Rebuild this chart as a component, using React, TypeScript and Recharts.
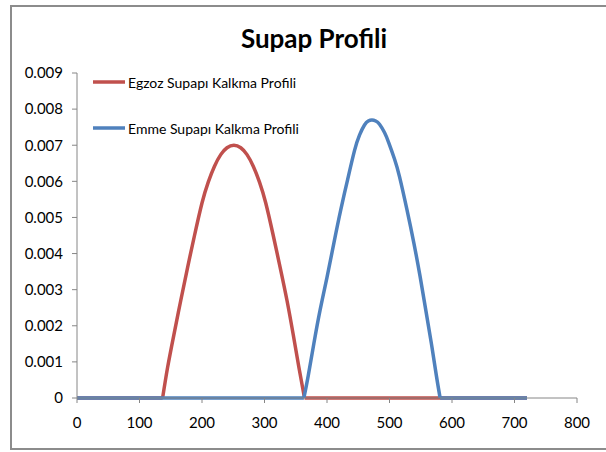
import React from "react";
import { LineChart, Line, XAxis, YAxis, Legend } from "recharts";

// Supap kalkma profilleri (krank açısı, derece -> kalkma, m) - sadece açık kısım
const egzozAci = [137, 145, 155, 166, 177, 188, 200, 210, 220, 230, 240, 251, 262, 272, 282, 292, 302, 314, 325, 336, 346, 355, 364];
const egzozKalkma = [0, 0.00085, 0.00175, 0.0027, 0.00362, 0.0045, 0.0054, 0.00598, 0.00642, 0.00674, 0.00693, 0.007, 0.00693, 0.00674, 0.00642, 0.00598, 0.0054, 0.0045, 0.00362, 0.0027, 0.00175, 0.00085, 0];

const emmeAci = [363, 370, 379, 389, 400, 411, 422, 433, 444, 452, 460, 466, 472, 478, 484, 492, 499, 508, 516, 528, 539, 549, 558, 567, 575, 581];
const emmeKalkma = [0, 0.00062, 0.00151, 0.00244, 0.00334, 0.00429, 0.00521, 0.00605, 0.00685, 0.00728, 0.00756, 0.00767, 0.0077, 0.00767, 0.00758, 0.00735, 0.00706, 0.00662, 0.00613, 0.00521, 0.00429, 0.00336, 0.00244, 0.00151, 0.00062, 0];

// kapalı (sıfır kalkma) bölgeler
const egzozKapaliAci = [0, 137, null, 364, 720];
const emmeKapaliAci = [0, 363, null, 581, 720];

const xTicks = [0, 100, 200, 300, 400, 500, 600, 700, 800];
const yTicks = [0, 0.001, 0.002, 0.003, 0.004, 0.005, 0.006, 0.007, 0.008, 0.009];

const seriesNames = ["Egzoz Supapı Kalkma Profili", "Emme Supapı Kalkma Profili"];
const seriesColors = ["#C0504D", "#4F81BD"];

const egzozData = egzozAci.map((aci, i) => ({ aci, kalkma: egzozKalkma[i] }));
const emmeData = emmeAci.map((aci, i) => ({ aci, kalkma: emmeKalkma[i] }));
// null -> iki kapalı bölge arasında çizgi kopar
const kapali = (acilar: (number | null)[]) =>
  acilar.map((aci, i) => (aci === null ? { aci: (acilar[i - 1] as number) + 1, kalkma: null } : { aci, kalkma: 0 }));
const egzozKapali = kapali(egzozKapaliAci);
const emmeKapali = kapali(emmeKapaliAci);

const FONT = "Lato, 'Open Sans', sans-serif";
const AXIS = "#868686";

function ProfilLegend() {
  return (
    <div style={{ fontFamily: FONT, fontSize: 14, color: "#000" }}>
      {seriesNames.map((name, i) => (
        <div key={name} style={{ display: "flex", alignItems: "center", height: 24, marginBottom: i === 0 ? 22 : 0 }}>
          <svg width={34} height={6} style={{ marginRight: 2 }}>
            <line x1={1} y1={3} x2={33} y2={3} stroke={seriesColors[i]} strokeWidth={3.5} />
          </svg>
          <span>{name}</span>
        </div>
      ))}
    </div>
  );
}

const lineProps = {
  dataKey: "kalkma",
  strokeWidth: 3.5,
  dot: false,
  activeDot: false,
  isAnimationActive: false,
} as const;

export default function App() {
  return (
    <div
      style={{
        position: "fixed",
        left: 0,
        top: 0,
        width: 606,
        height: 452,
        overflow: "hidden",
        background: "#fff",
        fontFamily: FONT,
      }}
    >
      <div
        style={{
          position: "absolute",
          left: 10,
          top: 5,
          width: 700,
          height: 445,
          border: "2px solid #8c8c8c",
          boxSizing: "border-box",
        }}
      />
      <div
        style={{
          position: "absolute",
          left: 0,
          top: 22,
          width: 628,
          textAlign: "center",
          fontSize: 26,
          fontWeight: 700,
          color: "#000",
        }}
      >
        Supap Profili
      </div>
      <div style={{ position: "absolute", left: 0, top: 0 }}>
        <LineChart width={606} height={452} margin={{ top: 73, right: 29, bottom: 24, left: 17 }}>
          <XAxis
            type="number"
            dataKey="aci"
            domain={[0, 800]}
            ticks={xTicks}
            interval={0}
            height={30}
            tickSize={5}
            tickMargin={14}
            axisLine={{ stroke: AXIS }}
            tickLine={{ stroke: AXIS }}
            tick={{ fill: "#000", fontSize: 15, fontFamily: FONT }}
            allowDataOverflow
          />
          <YAxis
            type="number"
            domain={[0, 0.009]}
            ticks={yTicks}
            interval={0}
            width={60}
            tickSize={5}
            tickMargin={9}
            axisLine={{ stroke: AXIS }}
            tickLine={{ stroke: AXIS }}
            tick={{ fill: "#000", fontSize: 15, fontFamily: FONT }}
            tickFormatter={(v: number) => (v === 0 ? "0" : v.toFixed(3))}
          />
          <Legend
            layout="horizontal"
            verticalAlign="middle"
            align="center"
            content={<ProfilLegend />}
            wrapperStyle={{ position: "absolute", left: 92, top: 70, width: 300 }}
          />
          <Line {...lineProps} data={egzozKapali} type="linear" stroke={seriesColors[0]} legendType="none" />
          <Line {...lineProps} data={egzozData} name={seriesNames[0]} type="natural" stroke={seriesColors[0]} />
          <Line {...lineProps} data={emmeKapali} type="linear" stroke={seriesColors[1]} legendType="none" />
          <Line {...lineProps} data={emmeData} name={seriesNames[1]} type="natural" stroke={seriesColors[1]} />
        </LineChart>
      </div>
    </div>
  );
}
